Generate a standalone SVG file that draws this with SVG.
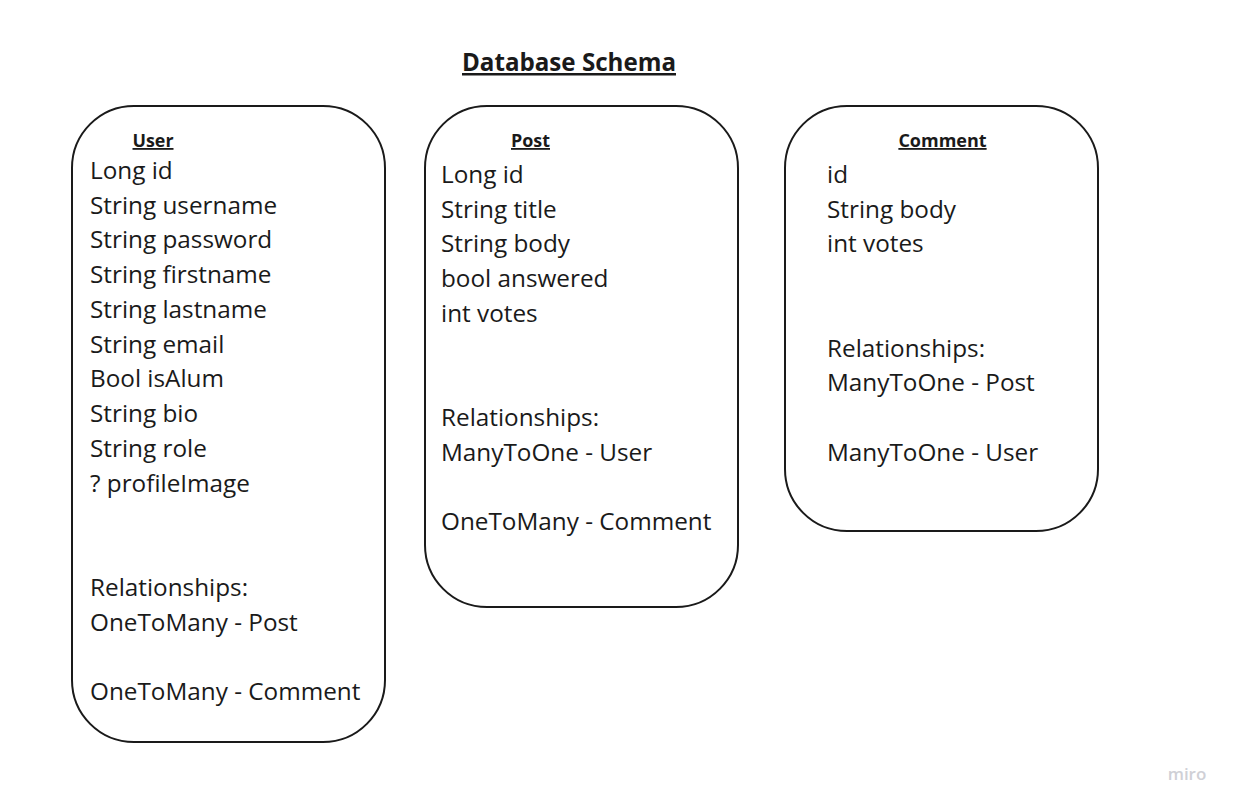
<svg xmlns="http://www.w3.org/2000/svg" width="1235" height="809" viewBox="0 0 1235 809">
<style>
.box{fill:#fff;stroke:#1a1a1a;stroke-width:2}
.t{font-family:"Open Sans",sans-serif;font-size:24.3px;fill:#1a1a1a}
.h{font-family:"Open Sans",sans-serif;font-size:18px;font-weight:bold;fill:#1a1a1a;text-decoration:underline}
.title{font-family:"Open Sans",sans-serif;font-size:25px;font-weight:bold;fill:#1a1a1a;text-decoration:underline}
</style>
<rect width="1235" height="809" fill="#fff"/>
<text class="title" x="569" y="71" text-anchor="middle" textLength="214" lengthAdjust="spacingAndGlyphs">Database Schema</text>
<g id="user">
<rect class="box" x="72" y="106" width="313" height="636" rx="62" ry="62"/>
<text class="h" x="153" y="147" text-anchor="middle" textLength="41" lengthAdjust="spacingAndGlyphs">User</text>
<text class="t" x="90" y="179">Long id</text>
<text class="t" x="90" y="214">String username</text>
<text class="t" x="90" y="248">String password</text>
<text class="t" x="90" y="283">String firstname</text>
<text class="t" x="90" y="318">String lastname</text>
<text class="t" x="90" y="353">String email</text>
<text class="t" x="90" y="387">Bool isAlum</text>
<text class="t" x="90" y="422">String bio</text>
<text class="t" x="90" y="457">String role</text>
<text class="t" x="90" y="492">? profileImage</text>
<text class="t" x="90" y="596">Relationships:</text>
<text class="t" x="90" y="631">OneToMany - Post</text>
<text class="t" x="90" y="700">OneToMany - Comment</text>
</g>
<g id="post">
<rect class="box" x="425" y="106" width="313" height="501" rx="62" ry="62"/>
<text class="h" x="530.5" y="147" text-anchor="middle" textLength="39" lengthAdjust="spacingAndGlyphs">Post</text>
<text class="t" x="441" y="183">Long id</text>
<text class="t" x="441" y="218">String title</text>
<text class="t" x="441" y="252">String body</text>
<text class="t" x="441" y="287">bool answered</text>
<text class="t" x="441" y="322">int votes</text>
<text class="t" x="441" y="426">Relationships:</text>
<text class="t" x="441" y="461">ManyToOne - User</text>
<text class="t" x="441" y="530">OneToMany - Comment</text>
</g>
<g id="comment">
<rect class="box" x="785" y="106" width="313" height="425" rx="62" ry="62"/>
<text class="h" x="942.5" y="147" text-anchor="middle">Comment</text>
<text class="t" x="827" y="183">id</text>
<text class="t" x="827" y="218">String body</text>
<text class="t" x="827" y="252">int votes</text>
<text class="t" x="827" y="357">Relationships:</text>
<text class="t" x="827" y="391">ManyToOne - Post</text>
<text class="t" x="827" y="461">ManyToOne - User</text>
</g>
<g id="connectors"></g>
<text x="1187" y="780" text-anchor="middle" font-family="Open Sans, sans-serif" font-size="17" font-weight="600" fill="#cfd0d6">miro</text>
</svg>
